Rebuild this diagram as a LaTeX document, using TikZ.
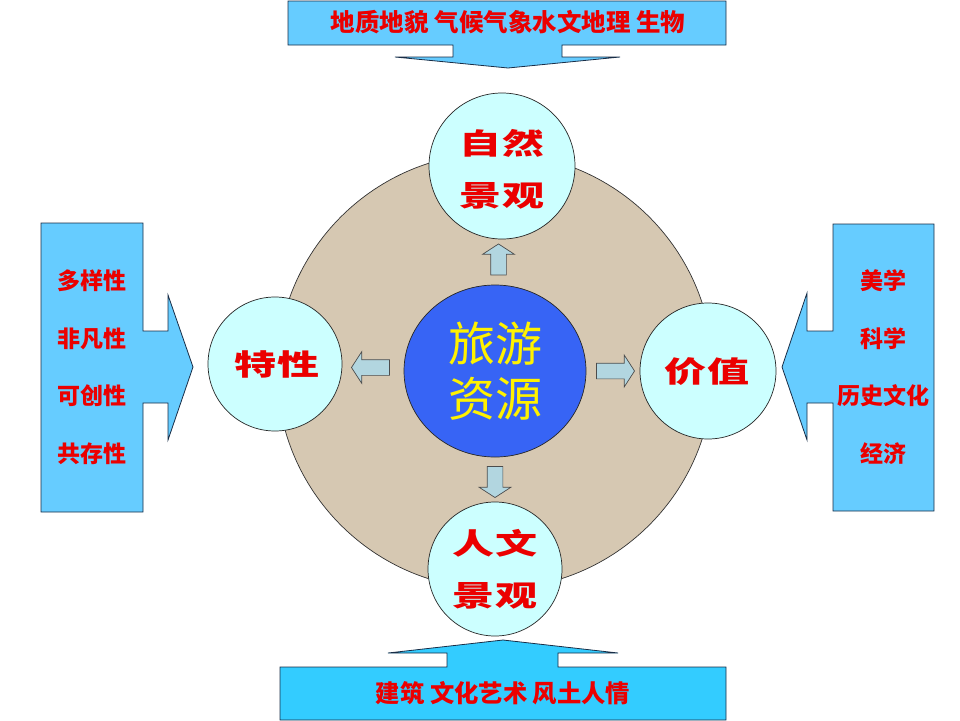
\documentclass[tikz,border=0pt]{standalone}
\usepackage{fontspec}
\newfontfamily\cjk{Noto Sans CJK SC}
\newfontfamily\cjkwide[FakeStretch=1.45]{Noto Sans CJK SC}
\usetikzlibrary{shapes.geometric,shapes.arrows}
\definecolor{txtred}{RGB}{235,0,0}
\definecolor{boxblue}{RGB}{102,204,255}
\definecolor{boxcyan}{RGB}{51,204,255}
\definecolor{boxedge}{RGB}{25,45,70}
\definecolor{discfill}{RGB}{214,200,178}
\definecolor{cirfill}{RGB}{204,255,255}
\definecolor{srcblue}{RGB}{55,100,245}
\definecolor{arrfill}{RGB}{178,214,224}

\begin{document}
\begin{tikzpicture}[x=1pt,y=-1pt,
  callout/.style={draw=boxedge,line width=0.8pt,line join=miter},
  circ/.style={circle,draw=black!85,line width=0.7pt,fill=cirfill,inner sep=0pt,align=center},
  blockarrow/.style={single arrow,draw=black!70,line width=0.7pt,fill=arrfill,inner xsep=0pt,inner ysep=7.5pt,minimum width=31pt,single arrow head extend=8pt,single arrow tip angle=114},
  lbl/.style={text=txtred,font=\cjk\bfseries\fontsize{23}{23}\selectfont},
  wide/.style={text=txtred,font=\cjkwide\bfseries\fontsize{29}{52}\selectfont,align=center}]
  \useasboundingbox (0,0) rectangle (960,720);
  % velky kruh na pozadi
  \fill[discfill,draw=black!80,line width=0.7pt] (495,371) circle (218);
  % sipky-popisky (nahore, dole, vlevo, vpravo)
  \draw[callout,fill=boxblue] (288,1) -- (726,1) -- (726,45) -- (562,45) -- (562,57) -- (620,57) -- (508,68) -- (395,57) -- (453,57) -- (453,45) -- (288,45) -- cycle;
  \draw[callout,fill=boxcyan] (280,720) -- (280,667) -- (447,667) -- (447,653) -- (388,653) -- (503,640) -- (618,653) -- (558,653) -- (558,667) -- (726,667) -- (726,720) -- cycle;
  \draw[callout,fill=boxblue] (41,223) -- (143,223) -- (143,331) -- (168,331) -- (168,295) -- (193,367) -- (168,440) -- (168,403) -- (143,403) -- (143,512) -- (41,512) -- cycle;
  \draw[callout,fill=boxblue] (934,224) -- (833,224) -- (833,331) -- (807,331) -- (807,293) -- (782,367) -- (807,440) -- (807,403) -- (833,403) -- (833,511) -- (934,511) -- cycle;
  \node[lbl,font=\cjk\bfseries\fontsize{24.5}{24.5}\selectfont] (natlist) at (508,22) {地质地貌 气候气象水文地理 生物};
  \node[lbl,font=\cjk\bfseries\fontsize{24.3}{24.3}\selectfont] (humlist) at (503,693) {建筑 文化艺术 风土人情};
  \foreach \t [count=\i] in {多样性,非凡性,可创性,共存性}
    \node[lbl] (chr\i) at (92,{281+57.5*(\i-1)}) {\t};
  \foreach \t [count=\i] in {美学,科学,历史文化,经济}
    \node[lbl] (val\i) at (883,{281+57.5*(\i-1)}) {\t};
  % kruhy
  \node[ellipse,draw=black!85,line width=0.7pt,fill=srcblue,minimum width=182pt,minimum height=172pt,inner sep=0pt,align=center,text=yellow,font=\cjk\fontsize{47}{55}\selectfont] (src) at (495,371) {旅游\\资源};
  \node[circ,minimum size=146pt] (nat) at (502,166) {};
  \node[circ,minimum size=134pt] (hum) at (495,569) {};
  \node[circ,minimum size=134pt] (chr) at (275,364) {};
  \node[circ,minimum size=136pt] (val) at (708,371) {};
  \node[wide] (natlbl) at (502,169) {自然\\景观};
  \node[wide] (humlbl) at (495,569) {人文\\景观};
  \node[wide] (chrlbl) at (277,364) {特性};
  \node[wide] (vallbl) at (707,372) {价值};
  % sipky ze stredu
  \path (src.north) -- (nat.south) node[midway,blockarrow,rotate=90,minimum height=31pt] (a1) {};
  \path (src.south) -- (hum.north) node[midway,blockarrow,rotate=-90,minimum height=31pt] (a2) {};
  \path (src.west) -- (chr.east) node[midway,blockarrow,rotate=180,minimum height=38pt] (a3) {};
  \path (src.east) -- (val.west) node[midway,blockarrow,minimum height=38pt] (a4) {};
\end{tikzpicture}
\end{document}
